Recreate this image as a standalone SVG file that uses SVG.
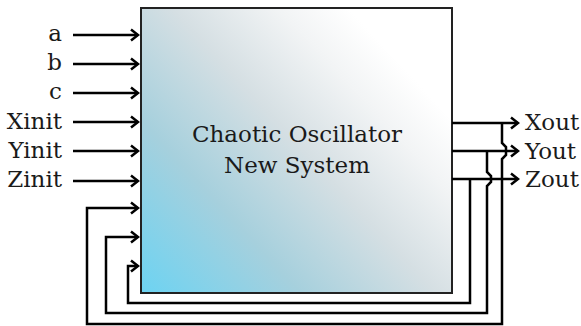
<svg xmlns="http://www.w3.org/2000/svg" width="581" height="326" viewBox="0 0 581 326">
  <style>
    .lbl { font-family: "DejaVu Serif", "Liberation Serif", serif; font-size: 23px; fill: #1a1a1a; }
    .title { font-family: "DejaVu Serif", "Liberation Serif", serif; font-size: 23px; fill: #1a1a1a; text-anchor: middle; }
    .wire { fill: none; stroke: #000; stroke-width: 2.5; stroke-linejoin: miter; }
  </style>
  <defs>
    <linearGradient id="boxFill" x1="0" y1="1" x2="1" y2="0.15">
      <stop offset="0" stop-color="#6cd3f2"/>
      <stop offset="0.3" stop-color="#a6d0dd"/>
      <stop offset="0.55" stop-color="#d5dfe3"/>
      <stop offset="0.75" stop-color="#f2f4f5"/>
      <stop offset="0.88" stop-color="#ffffff"/>
    </linearGradient>
    <marker id="arr" viewBox="-10 -8 12 16" markerWidth="12" markerHeight="16" refX="0" refY="0" orient="auto" markerUnits="userSpaceOnUse">
      <path d="M-7,-5.5 L0,0 L-7,5.5" fill="none" stroke="#000" stroke-width="2.5"/>
    </marker>
  </defs>

  <!-- main block -->
  <g id="oscillator">
    <rect x="141" y="8" width="311" height="285" fill="url(#boxFill)" stroke="#222" stroke-width="2"/>
    <text class="title" x="297" y="142">Chaotic Oscillator</text>
    <text class="title" x="297" y="173">New System</text>
  </g>

  <!-- input labels -->
  <g id="in-a"><text class="lbl" x="62" y="41" text-anchor="end">a</text></g>
  <g id="in-b"><text class="lbl" x="62" y="70" text-anchor="end">b</text></g>
  <g id="in-c"><text class="lbl" x="62" y="99" text-anchor="end">c</text></g>
  <g id="in-xinit"><text class="lbl" x="62" y="129" text-anchor="end">Xinit</text></g>
  <g id="in-yinit"><text class="lbl" x="62" y="158" text-anchor="end">Yinit</text></g>
  <g id="in-zinit"><text class="lbl" x="62" y="187" text-anchor="end">Zinit</text></g>

  <!-- output labels -->
  <g id="out-xout"><text class="lbl" x="525" y="130">Xout</text></g>
  <g id="out-yout"><text class="lbl" x="525" y="159">Yout</text></g>
  <g id="out-zout"><text class="lbl" x="525" y="187">Zout</text></g>

  <!-- connectors -->
  <g id="connectors" class="wire">
    <!-- parameter and initial-condition inputs -->
    <line x1="73" y1="35" x2="138" y2="35" marker-end="url(#arr)"/>
    <line x1="73" y1="64" x2="138" y2="64" marker-end="url(#arr)"/>
    <line x1="73" y1="93" x2="138" y2="93" marker-end="url(#arr)"/>
    <line x1="73" y1="122" x2="138" y2="122" marker-end="url(#arr)"/>
    <line x1="73" y1="151" x2="138" y2="151" marker-end="url(#arr)"/>
    <line x1="73" y1="181" x2="138" y2="181" marker-end="url(#arr)"/>

    <!-- state outputs -->
    <line x1="452" y1="123" x2="518" y2="123" marker-end="url(#arr)"/>
    <line x1="452" y1="151" x2="518" y2="151" marker-end="url(#arr)"/>
    <line x1="452" y1="179" x2="518" y2="179" marker-end="url(#arr)"/>

    <!-- X feedback, hopping over the Y output -->
    <polyline points="502,123 502,143 506,147 506,155 502,159 502,324 87,324 87,208 138,208" marker-end="url(#arr)"/>
    <!-- Y feedback, hopping over the Z output -->
    <polyline points="487,151 487,172 491,176 491,182 487,186 487,313 106,313 106,237 138,237" marker-end="url(#arr)"/>
    <!-- Z feedback -->
    <polyline points="470,179 470,303 128,303 128,266 138,266" marker-end="url(#arr)"/>
  </g>
</svg>
